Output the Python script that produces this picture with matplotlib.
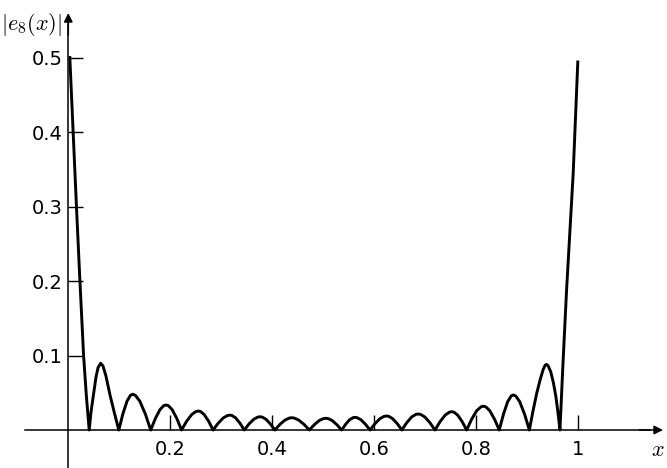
import matplotlib
matplotlib.use("Agg")
import matplotlib.pyplot as plt

# ---- data ----
x_vals = [
    0.003, 0.0095, 0.016, 0.0228, 0.030, 0.0355, 0.041,
    0.0445, 0.049, 0.0543, 0.0585, 0.0635, 0.068, 0.074, 0.0818, 0.0900, 0.099,
    0.1071, 0.1152, 0.1220, 0.126, 0.1313, 0.1402, 0.1509, 0.1616,
    0.1706, 0.1796, 0.1871, 0.1916, 0.1962, 0.2038, 0.2129, 0.222,
    0.2319, 0.2418, 0.2501, 0.255, 0.2594, 0.2666, 0.2753, 0.284,
    0.2939, 0.3038, 0.3121, 0.317, 0.3212, 0.3282, 0.3366, 0.345,
    0.3543, 0.3636, 0.3714, 0.376, 0.3804, 0.3876, 0.3963, 0.405,
    0.4149, 0.4248, 0.4331, 0.438, 0.4432, 0.4518, 0.4622, 0.4726,
    0.4823, 0.4920, 0.5001, 0.505, 0.5097, 0.5174, 0.5267, 0.536,
    0.5438, 0.5516, 0.5581, 0.562, 0.5664, 0.5738, 0.5827, 0.5916,
    0.6013, 0.6110, 0.6191, 0.624, 0.6285, 0.636, 0.645, 0.654,
    0.6636, 0.6732, 0.6812, 0.686, 0.6910, 0.6992, 0.7091, 0.719,
    0.7289, 0.7388, 0.7471, 0.752, 0.7564, 0.7636, 0.7723, 0.781,
    0.7909, 0.8008, 0.8091, 0.814, 0.8187, 0.8264, 0.8357, 0.845,
    0.8533, 0.8615, 0.8684, 0.8725, 0.8772, 0.8851, 0.8946, 0.904,
    0.911, 0.918, 0.925, 0.931, 0.935, 0.938, 0.941, 0.946, 0.951, 0.956, 0.960, 0.964,
    0.970, 0.977, 0.990, 0.999,
]
err_vals = [
    0.500, 0.400, 0.300, 0.200, 0.100, 0.045, 0.0,
    0.024, 0.046, 0.071, 0.084, 0.0895, 0.086, 0.072, 0.047, 0.024, 0.0,
    0.0218, 0.0388, 0.0467, 0.048, 0.0467, 0.0388, 0.0218, 0.0,
    0.0153, 0.0272, 0.0327, 0.0336, 0.0327, 0.0272, 0.0153, 0.0,
    0.0116, 0.0206, 0.0248, 0.0255, 0.0248, 0.0206, 0.0116, 0.0,
    0.0091, 0.0162, 0.0194, 0.0200, 0.0194, 0.0162, 0.0091, 0.0,
    0.0081, 0.0144, 0.0173, 0.0178, 0.0173, 0.0144, 0.0081, 0.0,
    0.0075, 0.0133, 0.0160, 0.0165, 0.0160, 0.0133, 0.0075, 0.0,
    0.0071, 0.0127, 0.0153, 0.0157, 0.0153, 0.0127, 0.0071, 0.0,
    0.0077, 0.0138, 0.0165, 0.0170, 0.0165, 0.0138, 0.0077, 0.0,
    0.0085, 0.0152, 0.0183, 0.0188, 0.0183, 0.0152, 0.0085, 0.0,
    0.0098, 0.0174, 0.0209, 0.0215, 0.0209, 0.0174, 0.0098, 0.0,
    0.0112, 0.0199, 0.0239, 0.0246, 0.0239, 0.0199, 0.0112, 0.0,
    0.0145, 0.0259, 0.0311, 0.0320, 0.0311, 0.0259, 0.0145, 0.0,
    0.0213, 0.0380, 0.0457, 0.0470, 0.0457, 0.0380, 0.0213, 0.0,
    0.025, 0.048, 0.067, 0.081, 0.087, 0.088, 0.086, 0.078, 0.064, 0.045, 0.024, 0.0,
    0.090, 0.188, 0.345, 0.494,
]
x_ticks = [0.2, 0.4, 0.6, 0.8, 1.0]
x_tick_labels = ["0.2", "0.4", "0.6", "0.8", "1"]
y_ticks = [0.1, 0.2, 0.3, 0.4, 0.5]
y_tick_labels = ["0.1", "0.2", "0.3", "0.4", "0.5"]

plt.rcParams["mathtext.fontset"] = "cm"
plt.rcParams["font.family"] = ["DejaVu Sans"]

fig = plt.figure(figsize=(6.67, 4.68), dpi=100)
ax = fig.add_axes([0, 0, 1, 1])
ax.set_xlim(-0.1339, 1.1739)
ax.set_ylim(-0.051, 0.5772)

ax.plot(x_vals, err_vals, color="black", lw=2.1, solid_joinstyle="round", zorder=3)

for s in ("top", "right"):
    ax.spines[s].set_visible(False)
ax.spines["left"].set_position(("data", 0))
ax.spines["bottom"].set_position(("data", 0))
ax.spines["left"].set_bounds(-0.051, 0.545)
ax.spines["bottom"].set_bounds(-0.085, 1.14)
for s in ("left", "bottom"):
    ax.spines[s].set_linewidth(1.1)

ax.annotate("", xy=(0, 0.5597), xytext=(0, 0.53),
            arrowprops=dict(arrowstyle="-|>", color="black", lw=1.1,
                            mutation_scale=13, shrinkA=0, shrinkB=0))
ax.annotate("", xy=(1.166, 0), xytext=(1.12, 0),
            arrowprops=dict(arrowstyle="-|>", color="black", lw=1.1,
                            mutation_scale=13, shrinkA=0, shrinkB=0))

ax.set_xticks(x_ticks)
ax.set_xticklabels(x_tick_labels)
ax.set_yticks(y_ticks)
ax.set_yticklabels(y_tick_labels)
ax.tick_params(axis="both", direction="in", length=11, width=1.0, labelsize=14)
ax.tick_params(axis="x", pad=7)
ax.tick_params(axis="y", pad=4)

fig.text(62 / 667, 1 - 25 / 468, r"$|e_8(x)|$", ha="right", va="center", fontsize=16)
fig.text(665 / 667, 1 - 450 / 468, r"$x$", ha="right", va="center", fontsize=16)

fig.savefig("out.png", dpi=100)
